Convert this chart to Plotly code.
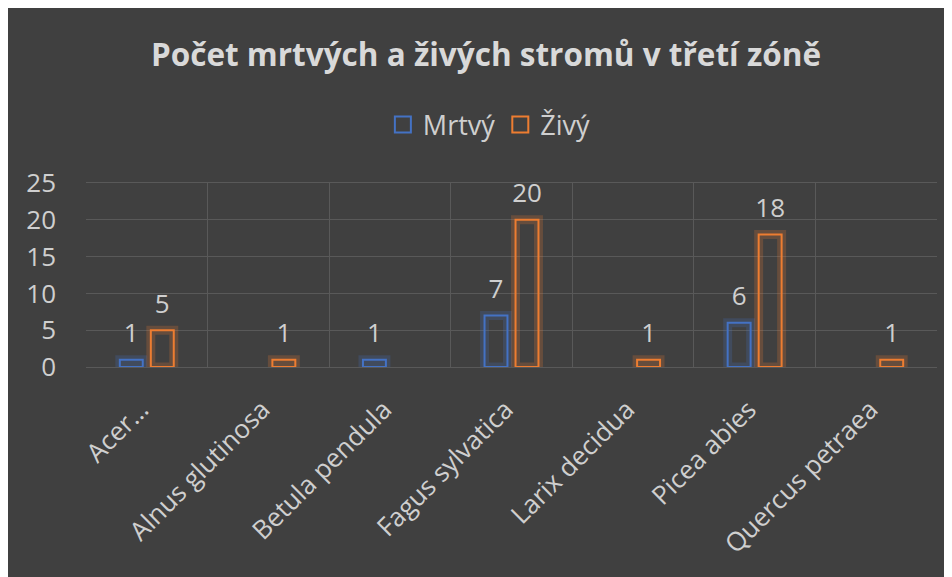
import plotly.graph_objects as go

categories = ["Acer…", "Alnus glutinosa", "Betula pendula", "Fagus sylvatica",
              "Larix decidua", "Picea abies", "Quercus petraea"]
mrtvy = [1, None, 1, 7, None, 6, None]
zivy = [5, 1, None, 20, 1, 18, 1]
series_names = ["Mrtvý", "Živý"]
title_text = "Počet mrtvých a živých stromů v třetí zóně"

BG = "#404040"
TXT = "#cfcfcf"
GRID = "#595959"
FONT = "Open Sans"
BLUE = "#4472C4"
ORANGE = "#ED7D31"
BLUE_GLOW = "rgba(68,114,196,0.22)"
ORANGE_GLOW = "rgba(237,125,49,0.22)"
BARGAP = 0.49

fig = go.Figure()
series = [(series_names[0], mrtvy, BLUE, BLUE_GLOW, "m"),
          (series_names[1], zivy, ORANGE, ORANGE_GLOW, "z")]

# glow layer
for name, vals, col, glow, og in series:
    fig.add_trace(go.Bar(
        x=categories, y=vals, name=name, offsetgroup=og, showlegend=False,
        marker=dict(color="rgba(0,0,0,0)", line=dict(color=glow, width=9)),
        hoverinfo="skip",
    ))
# main outlined bars
for name, vals, col, glow, og in series:
    fig.add_trace(go.Bar(
        x=categories, y=vals, name=name, offsetgroup=og, showlegend=False,
        marker=dict(color="rgba(0,0,0,0)", line=dict(color=col, width=2)),
    ))
# value labels
for name, vals, col, glow, og in series:
    fig.add_trace(go.Scatter(
        x=categories, y=vals, offsetgroup=og, mode="markers+text",
        text=[str(v) if v is not None else "" for v in vals],
        textposition="top center",
        textfont=dict(color=TXT, size=26, family=FONT),
        marker=dict(size=16, color="rgba(0,0,0,0)"),
        showlegend=False, hoverinfo="skip", cliponaxis=False,
    ))
# legend entries
for name, vals, col, glow, og in series:
    fig.add_trace(go.Scatter(
        x=[None], y=[None], name=name, mode="markers",
        marker=dict(symbol="square-open", size=16, color=col, line=dict(width=2)),
    ))

ml, mr, mt, mb = 78, 23, 175, 218
ph = 577 - mt - mb

fig.update_layout(
    width=952, height=577,
    margin=dict(l=ml, r=mr, t=mt, b=mb),
    paper_bgcolor=BG, plot_bgcolor=BG,
    font=dict(family=FONT, color=TXT),
    title=dict(text="<b>" + title_text + "</b>", x=478 / 952, xanchor="center",
               y=1 - 47 / 577, yanchor="middle",
               font=dict(size=31.5, color="#d9d9d9", family=FONT)),
    legend=dict(orientation="h", x=0.474, xanchor="center", y=(577 - mb - 117) / ph,
                yanchor="middle", itemsizing="trace",
                font=dict(size=27, color=TXT, family=FONT), bgcolor="rgba(0,0,0,0)",
                itemwidth=30, traceorder="normal"),
    barmode="group", bargap=BARGAP, bargroupgap=0.26,
    scattermode="group", scattergap=BARGAP,
    xaxis=dict(type="category", tickson="boundaries", showgrid=True, gridcolor=GRID,
               gridwidth=1, ticks="", tickangle=-45, ticklabelstandoff=16,
               ticklabelshift=-6,
               tickfont=dict(size=26, color=TXT, family=FONT),
               showline=True, linecolor=GRID, mirror=True, zeroline=False),
    yaxis=dict(range=[0, 25], dtick=5, showgrid=True, gridcolor=GRID, gridwidth=1,
               tickfont=dict(size=26, color=TXT, family=FONT), ticks="",
               ticklabelstandoff=29, zeroline=False, showline=False),
)

fig.write_html("out.html")
